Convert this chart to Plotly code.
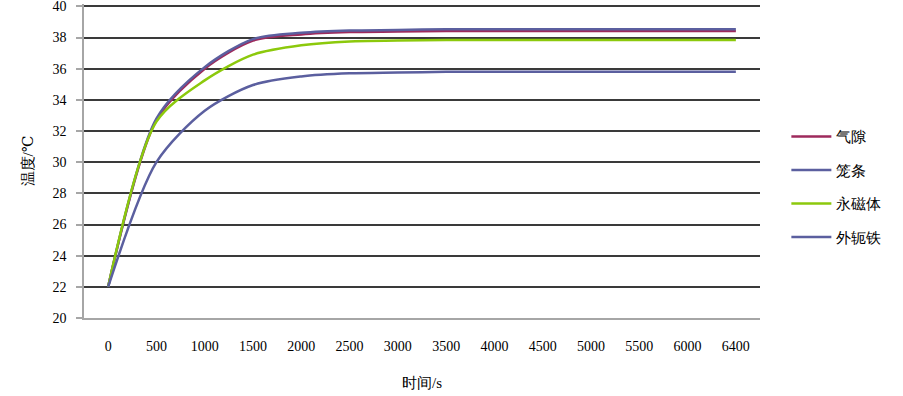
import plotly.graph_objects as go

time_labels = ["0", "500", "1000", "1500", "2000", "2500", "3000", "3500",
               "4000", "4500", "5000", "5500", "6000", "6400"]

air_gap = [22, 32.7, 36.0, 37.8, 38.2, 38.35, 38.38, 38.42, 38.42, 38.42, 38.42, 38.42, 38.42, 38.42]
cage_bar = [22, 32.8, 36.1, 37.9, 38.3, 38.45, 38.48, 38.53, 38.53, 38.53, 38.53, 38.53, 38.53, 38.53]
magnet = [22, 32.6, 35.25, 36.9, 37.5, 37.75, 37.8, 37.84, 37.84, 37.84, 37.84, 37.84, 37.84, 37.84]
yoke = [22, 30.0, 33.3, 34.95, 35.5, 35.7, 35.75, 35.8, 35.8, 35.8, 35.8, 35.8, 35.8, 35.8]

series_names = ["气隙", "笼条", "永磁体", "外轭铁"]
series_values = [air_gap, cage_bar, magnet, yoke]
series_colors = ["#9E2A5C", "#5B5F9F", "#8CC90C", "#5B5F9F"]

FONT = "Liberation Serif, Times New Roman, DejaVu Serif, serif"

fig = go.Figure()
for i, (name, vals, col) in enumerate(zip(series_names, series_values, series_colors)):
    fig.add_trace(go.Scatter(
        x=time_labels, y=vals, name=name, mode="lines",
        line=dict(color=col, width=2.5, shape="spline", smoothing=0.8),
        legendgroup=f"g{i}",
    ))

fig.update_layout(
    width=903, height=396,
    margin=dict(l=84, r=143, t=4, b=78, autoexpand=False),
    paper_bgcolor="white", plot_bgcolor="white",
    font=dict(family=FONT, size=14, color="#000000"),
    showlegend=True,
    legend=dict(x=1.039, xanchor="left", y=0.418, yanchor="middle",
                traceorder="grouped", tracegroupgap=11,
                font=dict(family=FONT, size=15), bgcolor="rgba(0,0,0,0)",
                itemwidth=40),
)
fig.update_xaxes(
    type="category", range=[-0.5, 13.5], automargin=False,
    showgrid=False, showline=True, linecolor="#A6A6A6", linewidth=1.5,
    ticks="", ticklabelstandoff=14,
    tickfont=dict(family=FONT, size=14),
    title=dict(text="时间/s", font=dict(family=FONT, size=15), standoff=25),
    zeroline=False,
)
fig.update_yaxes(
    range=[20, 40.15], dtick=2, tick0=20, automargin=False,
    showgrid=True, gridcolor="#3A3A3A", gridwidth=1.5,
    showline=True, linecolor="#A6A6A6", linewidth=1.5,
    ticks="outside", ticklen=6, tickcolor="#A6A6A6", tickwidth=1.5,
    ticklabelstandoff=7, ticklabeloverflow="allow",
    tickfont=dict(family=FONT, size=14),
    title=dict(text="温度/℃", font=dict(family=FONT, size=15), standoff=15),
    zeroline=False,
)

fig.write_html("out.html", config={"displayModeBar": False},
               post_script="document.body.style.margin='0px';")
